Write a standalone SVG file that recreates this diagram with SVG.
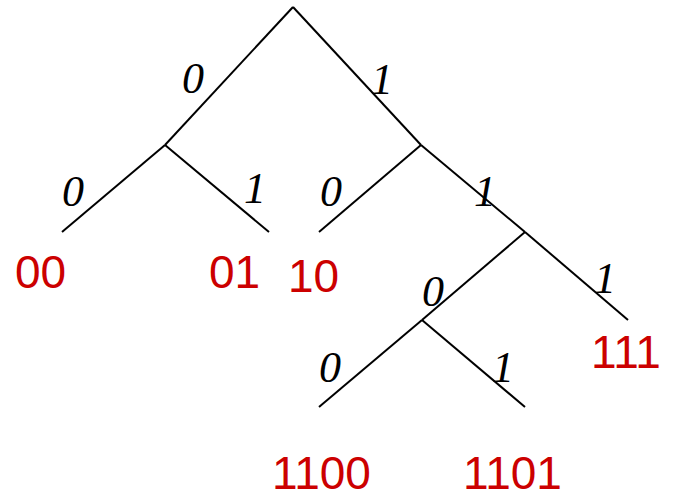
<svg xmlns="http://www.w3.org/2000/svg" width="676" height="499" viewBox="0 0 676 499">
<style>
.e{stroke:#000;stroke-width:2;fill:none}
</style>
<rect width="676" height="499" fill="#fff"/>
<g id="connectors">
<line class="e" x1="293" y1="7" x2="165" y2="145"/>
<line class="e" x1="293" y1="7" x2="421" y2="145"/>
<line class="e" x1="165" y1="145" x2="62" y2="232"/>
<line class="e" x1="165" y1="145" x2="269" y2="232"/>
<line class="e" x1="421" y1="145" x2="319" y2="232"/>
<line class="e" x1="421" y1="145" x2="525" y2="232"/>
<line class="e" x1="525" y1="232" x2="422" y2="320"/>
<line class="e" x1="525" y1="232" x2="628" y2="320"/>
<line class="e" x1="422" y1="320" x2="319" y2="407"/>
<line class="e" x1="422" y1="320" x2="525" y2="407"/>
</g>
<g id="edge-labels" font-family="Liberation Serif" font-style="italic" font-size="44" fill="#000">
<text x="182" y="93">0</text>
<text x="371" y="94">1</text>
<text x="62" y="206">0</text>
<text x="244" y="203">1</text>
<text x="320" y="206">0</text>
<text x="474" y="206">1</text>
<text x="422" y="306">0</text>
<text x="594" y="293">1</text>
<text x="319" y="382">0</text>
<text x="492" y="382">1</text>
</g>
<g id="leaves" font-family="Liberation Sans" font-size="46" fill="#cc0000">
<g id="leaf-00"><text x="15" y="288">00</text></g>
<g id="leaf-01"><text x="209" y="288">01</text></g>
<g id="leaf-10"><text x="288" y="292">10</text></g>
<g id="leaf-111"><text x="591" y="368">111</text></g>
<g id="leaf-1100"><text x="272" y="489">1100</text></g>
<g id="leaf-1101"><text x="463" y="489">1101</text></g>
</g>
</svg>
